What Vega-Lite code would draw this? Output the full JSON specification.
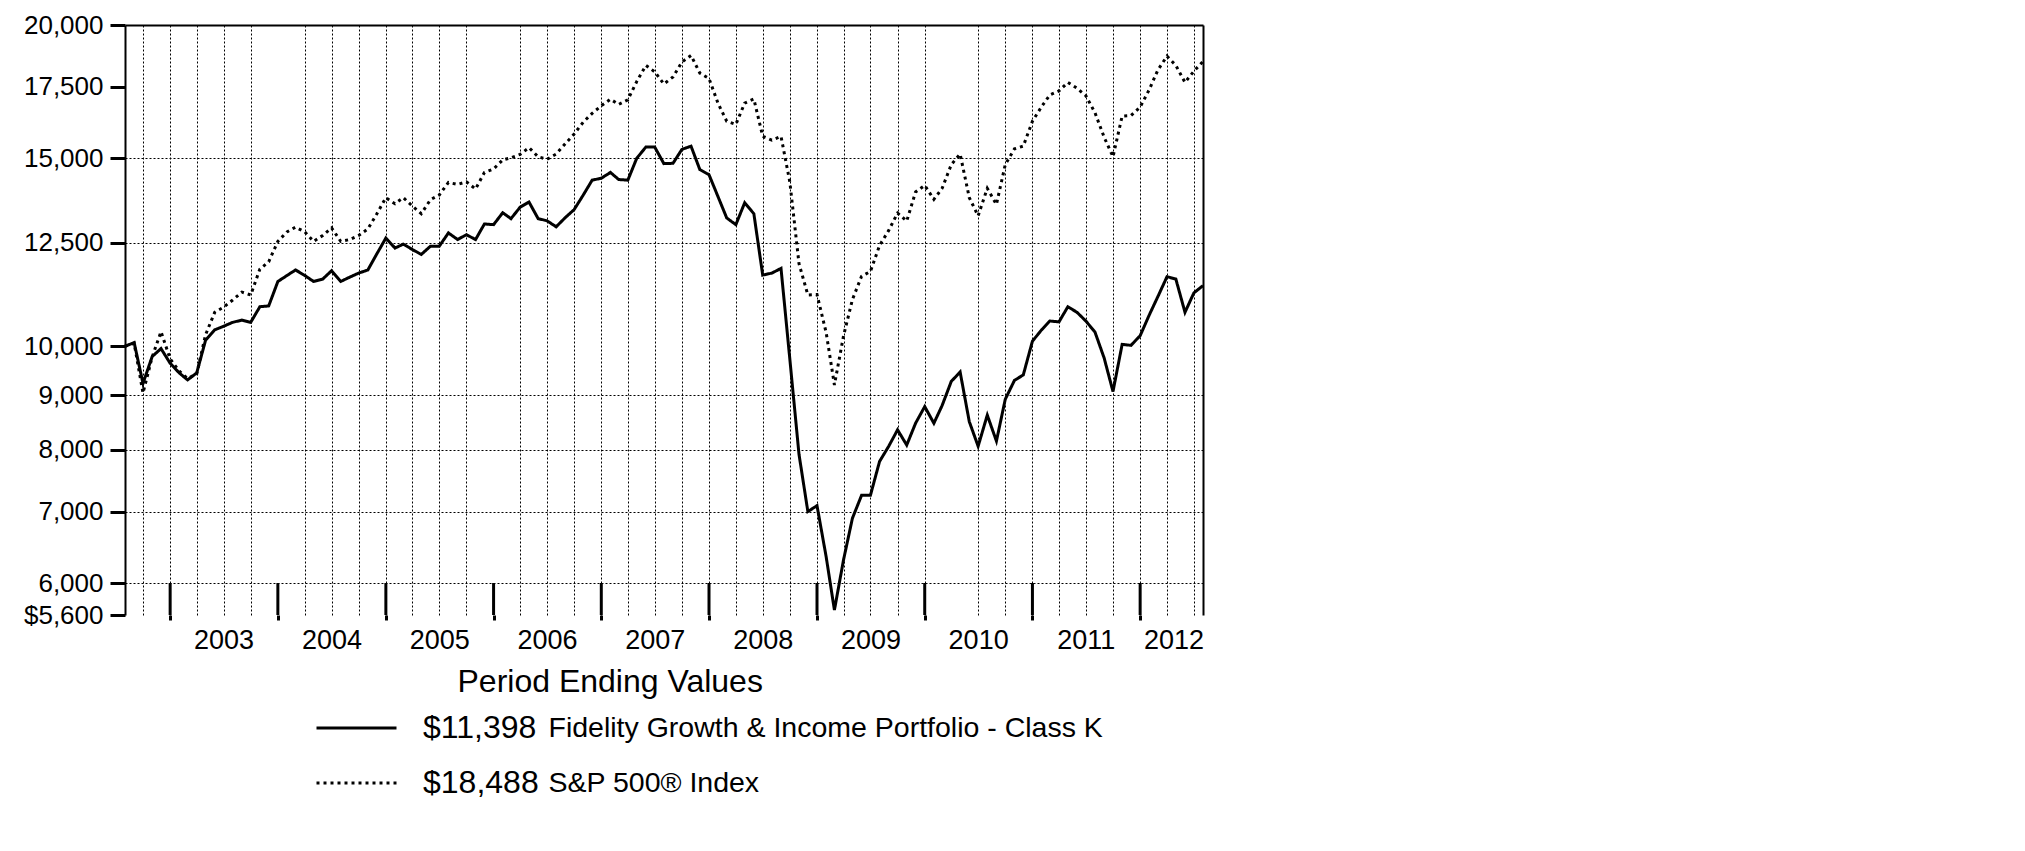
{
  "$schema": "https://vega.github.io/schema/vega-lite/v6.json",
  "width": 1078,
  "height": 590,
  "autosize": {"type": "none"},
  "padding": {"left": 125, "top": 25, "right": 822, "bottom": 236},
  "background": "white",
  "config": {"view": {"stroke": null}, "font": "Liberation Sans"},
  "datasets": {
    "series": [
      {"key": "fund", "amount": "$11,398", "name": "Fidelity Growth & Income Portfolio -  Class K"},
      {"key": "sp", "amount": "$18,488", "name": "S&P 500® Index"}
    ]
  },
  "encoding": {
    "x": {
      "field": "date",
      "type": "temporal",
      "scale": {
        "type": "utc",
        "nice": false,
        "domain": [
          {"year": 2002, "month": 7, "date": 31, "utc": true},
          {"year": 2012, "month": 7, "date": 31, "utc": true}
        ]
      },
      "axis": {
        "values": [
          {"year": 2002, "month": 9, "date": 30, "utc": true},
          {"year": 2002, "month": 12, "date": 31, "utc": true},
          {"year": 2003, "month": 3, "date": 31, "utc": true},
          {"year": 2003, "month": 6, "date": 30, "utc": true},
          {"year": 2003, "month": 9, "date": 30, "utc": true},
          {"year": 2003, "month": 12, "date": 31, "utc": true},
          {"year": 2004, "month": 3, "date": 31, "utc": true},
          {"year": 2004, "month": 6, "date": 30, "utc": true},
          {"year": 2004, "month": 9, "date": 30, "utc": true},
          {"year": 2004, "month": 12, "date": 31, "utc": true},
          {"year": 2005, "month": 3, "date": 31, "utc": true},
          {"year": 2005, "month": 6, "date": 30, "utc": true},
          {"year": 2005, "month": 9, "date": 30, "utc": true},
          {"year": 2005, "month": 12, "date": 31, "utc": true},
          {"year": 2006, "month": 3, "date": 31, "utc": true},
          {"year": 2006, "month": 6, "date": 30, "utc": true},
          {"year": 2006, "month": 9, "date": 30, "utc": true},
          {"year": 2006, "month": 12, "date": 31, "utc": true},
          {"year": 2007, "month": 3, "date": 31, "utc": true},
          {"year": 2007, "month": 6, "date": 30, "utc": true},
          {"year": 2007, "month": 9, "date": 30, "utc": true},
          {"year": 2007, "month": 12, "date": 31, "utc": true},
          {"year": 2008, "month": 3, "date": 31, "utc": true},
          {"year": 2008, "month": 6, "date": 30, "utc": true},
          {"year": 2008, "month": 9, "date": 30, "utc": true},
          {"year": 2008, "month": 12, "date": 31, "utc": true},
          {"year": 2009, "month": 3, "date": 31, "utc": true},
          {"year": 2009, "month": 6, "date": 30, "utc": true},
          {"year": 2009, "month": 9, "date": 30, "utc": true},
          {"year": 2009, "month": 12, "date": 31, "utc": true},
          {"year": 2010, "month": 3, "date": 31, "utc": true},
          {"year": 2010, "month": 6, "date": 30, "utc": true},
          {"year": 2010, "month": 9, "date": 30, "utc": true},
          {"year": 2010, "month": 12, "date": 31, "utc": true},
          {"year": 2011, "month": 3, "date": 31, "utc": true},
          {"year": 2011, "month": 6, "date": 30, "utc": true},
          {"year": 2011, "month": 9, "date": 30, "utc": true},
          {"year": 2011, "month": 12, "date": 31, "utc": true},
          {"year": 2012, "month": 3, "date": 31, "utc": true},
          {"year": 2012, "month": 4, "date": 22, "utc": true},
          {"year": 2012, "month": 6, "date": 30, "utc": true},
          {"year": 2012, "month": 7, "date": 31, "utc": true}
        ],
        "domain": false,
        "ticks": true,
        "tickSize": 5,
        "tickWidth": 3,
        "tickColor": "#000",
        "tickOpacity": {"condition": {"test": "utcmonth(datum.value) == 11", "value": 1}, "value": 0},
        "grid": true,
        "gridColor": "#000",
        "gridDash": {"condition": {"test": "utcmonth(datum.value) == 6", "value": []}, "value": [2, 2]},
        "gridWidth": {"condition": {"test": "utcmonth(datum.value) == 6", "value": 2}, "value": 1},
        "gridOpacity": {"condition": {"test": "utcmonth(datum.value) == 3 || (utcyear(datum.value) == 2003 && utcmonth(datum.value) == 11) || (utcyear(datum.value) == 2005 && utcmonth(datum.value) == 11) || (utcyear(datum.value) == 2010 && utcmonth(datum.value) == 2)", "value": 0}, "value": 1},
        "labelExpr": "((utcmonth(datum.value) == 5 && utcyear(datum.value) < 2012) || utcmonth(datum.value) == 3) ? utcFormat(datum.value, '%Y') : ''",
        "labelFont": "Liberation Sans",
        "labelFontSize": 27,
        "labelColor": "#000",
        "labelPadding": 7,
        "labelOverlap": false,
        "labelFlush": false,
        "labelBound": false,
        "title": "Period Ending Values",
        "titleX": 332,
        "titleY": 76,
        "titleAlign": "left",
        "titleBaseline": "alphabetic",
        "titleFont": "Liberation Sans",
        "titleFontSize": 32,
        "titleFontWeight": "normal",
        "titleColor": "#000"
      }
    }
  },
  "layer": [
    {
      "data": {"values": [
        {"date":"2002-07-31","fund":10000,"sp":10000},
        {"date":"2002-08-31","fund":10080,"sp":10066},
        {"date":"2002-09-30","fund":9230,"sp":9040},
        {"date":"2002-10-31","fund":9780,"sp":9770},
        {"date":"2002-11-30","fund":9950,"sp":10320},
        {"date":"2002-12-31","fund":9640,"sp":9730},
        {"date":"2003-01-31","fund":9440,"sp":9475},
        {"date":"2003-02-28","fund":9300,"sp":9330},
        {"date":"2003-03-31","fund":9440,"sp":9420},
        {"date":"2003-04-30","fund":10130,"sp":10250},
        {"date":"2003-05-31","fund":10360,"sp":10760},
        {"date":"2003-06-30","fund":10440,"sp":10880},
        {"date":"2003-07-31","fund":10530,"sp":11050},
        {"date":"2003-08-31","fund":10580,"sp":11240},
        {"date":"2003-09-30","fund":10530,"sp":11170},
        {"date":"2003-10-31","fund":10890,"sp":11810},
        {"date":"2003-11-30","fund":10910,"sp":12000},
        {"date":"2003-12-31","fund":11500,"sp":12540},
        {"date":"2004-01-31","fund":11650,"sp":12800},
        {"date":"2004-02-29","fund":11790,"sp":12930},
        {"date":"2004-03-31","fund":11650,"sp":12800},
        {"date":"2004-04-30","fund":11500,"sp":12540},
        {"date":"2004-05-31","fund":11560,"sp":12700},
        {"date":"2004-06-30","fund":11770,"sp":12910},
        {"date":"2004-07-31","fund":11500,"sp":12540},
        {"date":"2004-08-31","fund":11610,"sp":12590},
        {"date":"2004-09-30","fund":11710,"sp":12700},
        {"date":"2004-10-31","fund":11790,"sp":12880},
        {"date":"2004-11-30","fund":12200,"sp":13300},
        {"date":"2004-12-31","fund":12630,"sp":13780},
        {"date":"2005-01-31","fund":12360,"sp":13600},
        {"date":"2005-02-28","fund":12465,"sp":13780},
        {"date":"2005-03-31","fund":12320,"sp":13530},
        {"date":"2005-04-30","fund":12190,"sp":13310},
        {"date":"2005-05-31","fund":12410,"sp":13720},
        {"date":"2005-06-30","fund":12410,"sp":13860},
        {"date":"2005-07-31","fund":12770,"sp":14240},
        {"date":"2005-08-31","fund":12590,"sp":14180},
        {"date":"2005-09-30","fund":12720,"sp":14260},
        {"date":"2005-10-31","fund":12590,"sp":14040},
        {"date":"2005-11-30","fund":13020,"sp":14550},
        {"date":"2005-12-31","fund":13000,"sp":14660},
        {"date":"2006-01-31","fund":13340,"sp":14950},
        {"date":"2006-02-28","fund":13170,"sp":15020},
        {"date":"2006-03-31","fund":13500,"sp":15130},
        {"date":"2006-04-30","fund":13650,"sp":15350},
        {"date":"2006-05-31","fund":13170,"sp":15050},
        {"date":"2006-06-30","fund":13110,"sp":14970},
        {"date":"2006-07-31","fund":12940,"sp":15140},
        {"date":"2006-08-31","fund":13200,"sp":15480},
        {"date":"2006-09-30","fund":13430,"sp":15810},
        {"date":"2006-10-31","fund":13860,"sp":16220},
        {"date":"2006-11-30","fund":14310,"sp":16530},
        {"date":"2006-12-31","fund":14370,"sp":16800},
        {"date":"2007-01-31","fund":14550,"sp":17040},
        {"date":"2007-02-28","fund":14330,"sp":16850},
        {"date":"2007-03-31","fund":14310,"sp":17020},
        {"date":"2007-04-30","fund":15000,"sp":17700},
        {"date":"2007-05-31","fund":15370,"sp":18330},
        {"date":"2007-06-30","fund":15370,"sp":18080},
        {"date":"2007-07-31","fund":14830,"sp":17610},
        {"date":"2007-08-31","fund":14840,"sp":17880},
        {"date":"2007-09-30","fund":15290,"sp":18460},
        {"date":"2007-10-31","fund":15400,"sp":18730},
        {"date":"2007-11-30","fund":14640,"sp":18030},
        {"date":"2007-12-31","fund":14480,"sp":17820},
        {"date":"2008-01-31","fund":13800,"sp":16880},
        {"date":"2008-02-29","fund":13190,"sp":16250},
        {"date":"2008-03-31","fund":13000,"sp":16140},
        {"date":"2008-04-30","fund":13630,"sp":16900},
        {"date":"2008-05-31","fund":13310,"sp":17050},
        {"date":"2008-06-30","fund":11660,"sp":15730},
        {"date":"2008-07-31","fund":11710,"sp":15600},
        {"date":"2008-08-31","fund":11830,"sp":15730},
        {"date":"2008-09-30","fund":9720,"sp":14250},
        {"date":"2008-10-31","fund":7920,"sp":11950},
        {"date":"2008-11-30","fund":7000,"sp":11170},
        {"date":"2008-12-31","fund":7090,"sp":11180},
        {"date":"2009-01-31","fund":6350,"sp":10300},
        {"date":"2009-02-28","fund":5660,"sp":9200},
        {"date":"2009-03-31","fund":6310,"sp":10230},
        {"date":"2009-04-30","fund":6900,"sp":11060},
        {"date":"2009-05-31","fund":7250,"sp":11630},
        {"date":"2009-06-30","fund":7250,"sp":11750},
        {"date":"2009-07-31","fund":7800,"sp":12430},
        {"date":"2009-08-31","fund":8060,"sp":12840},
        {"date":"2009-09-30","fund":8350,"sp":13330},
        {"date":"2009-10-31","fund":8080,"sp":13100},
        {"date":"2009-11-30","fund":8470,"sp":13950},
        {"date":"2009-12-31","fund":8780,"sp":14150},
        {"date":"2010-01-31","fund":8470,"sp":13730},
        {"date":"2010-02-28","fund":8800,"sp":14060},
        {"date":"2010-03-31","fund":9270,"sp":14800},
        {"date":"2010-04-30","fund":9460,"sp":15140},
        {"date":"2010-05-31","fund":8500,"sp":13780},
        {"date":"2010-06-30","fund":8060,"sp":13250},
        {"date":"2010-07-31","fund":8620,"sp":14060},
        {"date":"2010-08-31","fund":8150,"sp":13580},
        {"date":"2010-09-30","fund":8920,"sp":14800},
        {"date":"2010-10-31","fund":9290,"sp":15310},
        {"date":"2010-11-30","fund":9400,"sp":15400},
        {"date":"2010-12-31","fund":10110,"sp":16250},
        {"date":"2011-01-31","fund":10360,"sp":16770},
        {"date":"2011-02-28","fund":10560,"sp":17200},
        {"date":"2011-03-31","fund":10540,"sp":17350},
        {"date":"2011-04-30","fund":10890,"sp":17670},
        {"date":"2011-05-31","fund":10760,"sp":17450},
        {"date":"2011-06-30","fund":10560,"sp":17170},
        {"date":"2011-07-31","fund":10310,"sp":16550},
        {"date":"2011-08-31","fund":9750,"sp":15700},
        {"date":"2011-09-30","fund":9070,"sp":15050},
        {"date":"2011-10-31","fund":10040,"sp":16430},
        {"date":"2011-11-30","fund":10020,"sp":16450},
        {"date":"2011-12-31","fund":10230,"sp":16750},
        {"date":"2012-01-31","fund":10700,"sp":17400},
        {"date":"2012-02-29","fund":11130,"sp":18150},
        {"date":"2012-03-31","fund":11620,"sp":18700},
        {"date":"2012-04-30","fund":11560,"sp":18330},
        {"date":"2012-05-31","fund":10760,"sp":17670},
        {"date":"2012-06-30","fund":11220,"sp":18100},
        {"date":"2012-07-31","fund":11398,"sp":18488}
      ]},
      "transform": [
        {"fold": ["fund", "sp"], "as": ["key", "value"]},
        {"lookup": "key", "from": {"data": {"name": "series"}, "key": "key", "fields": ["amount", "name"]}}
      ],
      "mark": {"type": "line", "strokeWidth": 3, "strokeCap": "butt"},
      "encoding": {
        "y": {
          "field": "value",
          "type": "quantitative",
          "scale": {"type": "log", "domain": [5600, 20000], "nice": false},
          "axis": {
            "values": [5600, 6000, 7000, 8000, 9000, 10000, 12500, 15000, 17500, 20000],
            "domain": true,
            "domainColor": "#000",
            "domainWidth": 2,
            "tickSize": 15,
            "tickWidth": 3,
            "tickColor": "#000",
            "labelExpr": "datum.value == 5600 ? '$5,600' : format(datum.value, ',')",
            "labelFont": "Liberation Sans",
            "labelFontSize": 26,
            "labelColor": "#000",
            "labelPadding": 7,
            "labelOverlap": false,
            "labelFlush": false,
            "title": null,
            "grid": true,
            "gridColor": "#000",
            "gridDash": {"condition": {"test": "datum.value == 20000", "value": []}, "value": [2, 2]},
            "gridWidth": {"condition": {"test": "datum.value == 20000", "value": 2}, "value": 1},
            "gridOpacity": {"condition": {"test": "datum.value == 5600 || datum.value == 10000 || datum.value == 17500", "value": 0}, "value": 1}
          }
        },
        "strokeDash": {
          "field": "amount",
          "type": "nominal",
          "scale": {"range": [[1, 0], [3, 4]]},
          "legend": {
            "orient": "none",
            "legendX": 190,
            "legendY": 683,
            "direction": "vertical",
            "title": null,
            "padding": 0,
            "symbolType": "stroke",
            "symbolSize": 6400,
            "symbolStrokeWidth": 3,
            "symbolStrokeColor": "#000",
            "labelFont": "Liberation Sans",
            "labelFontSize": 32,
            "labelColor": "#000",
            "labelOffset": 25,
            "labelLimit": 1000,
            "clipHeight": 40,
            "rowPadding": 15
          }
        },
        "color": {
          "field": "name",
          "type": "nominal",
          "scale": {"range": ["#000", "#000"]},
          "legend": {
            "orient": "none",
            "legendX": 395,
            "legendY": 683,
            "direction": "vertical",
            "title": null,
            "padding": 0,
            "symbolType": "stroke",
            "symbolSize": 0,
            "symbolOpacity": 0,
            "labelFont": "Liberation Sans",
            "labelFontSize": 28.5,
            "labelColor": "#000",
            "labelOffset": 0,
            "labelLimit": 1000,
            "clipHeight": 40,
            "rowPadding": 15
          }
        }
      }
    },
    {
      "data": {"values": [
        {"date": "2002-12-31"},
        {"date": "2003-12-31"},
        {"date": "2004-12-31"},
        {"date": "2005-12-31"},
        {"date": "2006-12-31"},
        {"date": "2007-12-31"},
        {"date": "2008-12-31"},
        {"date": "2009-12-31"},
        {"date": "2010-12-31"},
        {"date": "2011-12-31"}
      ]},
      "mark": {"type": "rule", "strokeWidth": 3, "color": "#000"},
      "encoding": {
        "y": {"datum": 6000, "type": "quantitative"},
        "y2": {"datum": 5600}
      }
    }
  ]
}
